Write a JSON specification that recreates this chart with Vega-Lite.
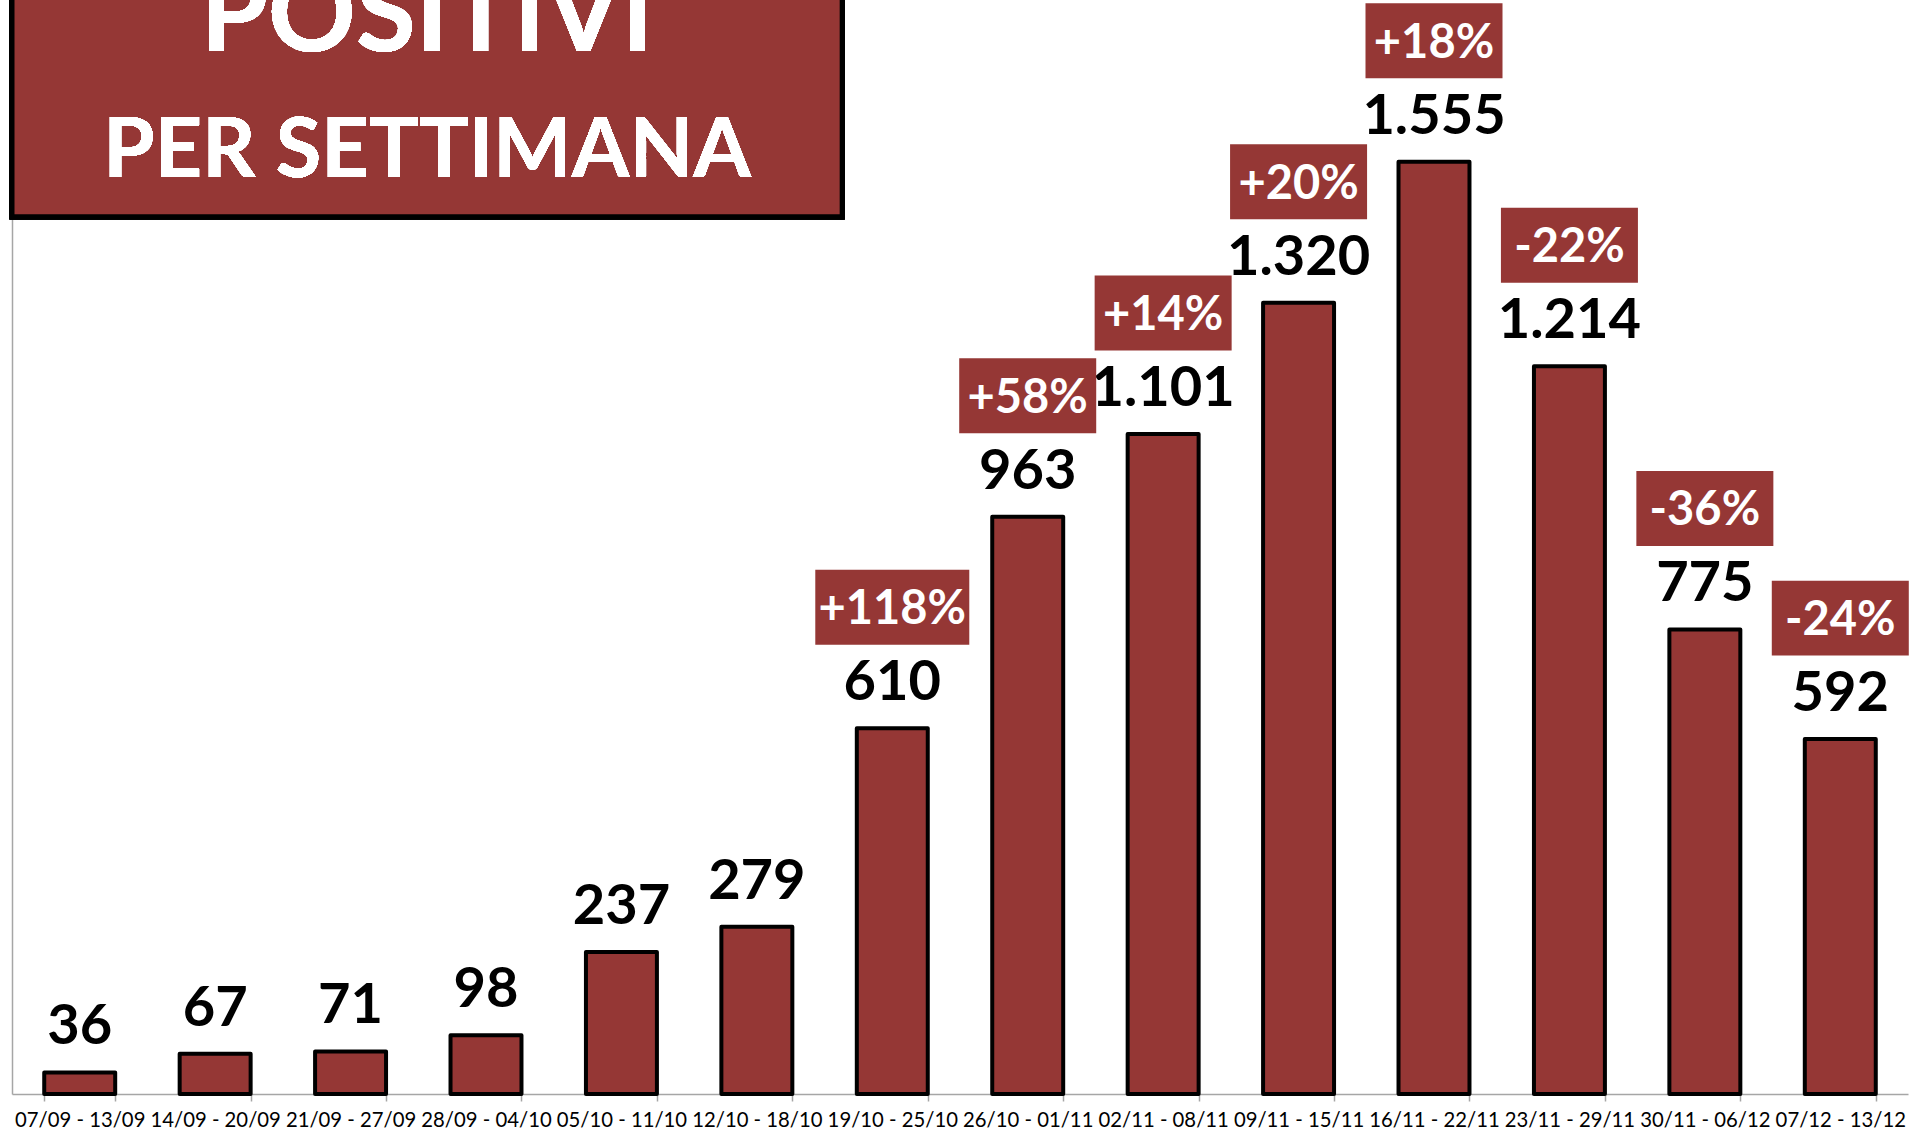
{
  "$schema": "https://vega.github.io/schema/vega-lite/v6.json",
  "width": 1896,
  "height": 1094,
  "padding": {"left": 12, "top": 0, "right": 5, "bottom": 45},
  "autosize": {"type": "none"},
  "background": "white",
  "config": {
    "view": {"stroke": null},
    "locale": {"number": {"decimal": ",", "thousands": ".", "grouping": [3], "currency": ["€", ""]}}
  },
  "data": {
    "values": [
      {"week": "07/09 - 13/09", "value": 36, "pct": null},
      {"week": "14/09 - 20/09", "value": 67, "pct": null},
      {"week": "21/09 - 27/09", "value": 71, "pct": null},
      {"week": "28/09 - 04/10", "value": 98, "pct": null},
      {"week": "05/10 - 11/10", "value": 237, "pct": null},
      {"week": "12/10 - 18/10", "value": 279, "pct": null},
      {"week": "19/10 - 25/10", "value": 610, "pct": "+118%"},
      {"week": "26/10 - 01/11", "value": 963, "pct": "+58%"},
      {"week": "02/11 - 08/11", "value": 1101, "pct": "+14%"},
      {"week": "09/11 - 15/11", "value": 1320, "pct": "+20%"},
      {"week": "16/11 - 22/11", "value": 1555, "pct": "+18%"},
      {"week": "23/11 - 29/11", "value": 1214, "pct": "-22%"},
      {"week": "30/11 - 06/12", "value": 775, "pct": "-36%"},
      {"week": "07/12 - 13/12", "value": 592, "pct": "-24%"}
    ]
  },
  "layer": [
    {
      "layer": [
        {
          "mark": {"type": "bar", "fill": "#953735", "stroke": "#000", "strokeWidth": 4, "strokeJoin": "round"},
          "encoding": {
            "x": {
              "field": "week", "type": "nominal", "sort": null,
              "scale": {"paddingInner": 0.476, "paddingOuter": 0.238},
              "axis": {
                "title": null, "labelFont": "Lato", "labelFontSize": 20.3, "labelColor": "#000",
                "labelAngle": 0, "labelOverlap": false, "labelBound": false, "labelLimit": 0,
                "labelPadding": 9, "tickBand": "extent", "tickSize": 7, "tickColor": "#a6a6a6",
                "tickWidth": 1.5, "domainColor": "#a6a6a6", "domainWidth": 1.5, "grid": false, "labelFlush": false
              }
            },
            "y": {
              "field": "value", "type": "quantitative",
              "scale": {"domain": [0, 1825], "nice": false},
              "axis": {"title": null, "labels": false, "ticks": false, "grid": false, "domainColor": "#a6a6a6", "domainWidth": 1.5, "minExtent": 0}
            }
          }
        },
        {
          "mark": {"type": "text", "font": "Lato", "fontWeight": "bold", "fontSize": 56, "baseline": "alphabetic", "dy": -28, "color": "#000"},
          "encoding": {
            "x": {"field": "week", "type": "nominal", "sort": null},
            "y": {"field": "value", "type": "quantitative"},
            "text": {"field": "value", "type": "quantitative", "format": ",d"}
          }
        },
        {
          "transform": [{"filter": "datum.pct != null"}],
          "mark": {"type": "point", "filled": true, "opacity": 1, "fill": "#953735", "strokeWidth": 0, "yOffset": -121},
          "encoding": {
            "x": {"field": "week", "type": "nominal", "sort": null},
            "y": {"field": "value", "type": "quantitative"},
            "shape": {"condition": {"test": "length(datum.pct) > 4", "value": "M-1,-0.487H1V0.487H-1Z"}, "value": "M-1,-0.5474H1V0.5474H-1Z"},
            "size": {"condition": {"test": "length(datum.pct) > 4", "value": 23716}, "value": 18769}
          }
        },
        {
          "transform": [{"filter": "datum.pct != null"}],
          "mark": {"type": "text", "font": "Lato", "fontWeight": "bold", "fontSize": 47, "baseline": "alphabetic", "dy": -104, "color": "#fff"},
          "encoding": {
            "x": {"field": "week", "type": "nominal", "sort": null},
            "y": {"field": "value", "type": "quantitative"},
            "text": {"field": "pct", "type": "nominal"}
          }
        }
      ]
    },
    {
      "layer": [
        {
          "mark": {"type": "rect", "fill": "#953735", "stroke": "#000", "strokeWidth": 5},
          "encoding": {
            "x": {"datum": 0, "type": "quantitative", "scale": {"domain": [0, 14], "nice": false, "zero": false}, "axis": null},
            "x2": {"datum": 6.13},
            "y": {"datum": 1463.6, "type": "quantitative"},
            "y2": {"datum": 1880}
          }
        },
        {
          "mark": {"type": "text", "font": "Lato", "fontWeight": "bold", "fontSize": 109, "baseline": "alphabetic", "align": "center", "color": "#fff"},
          "encoding": {
            "x": {"datum": 3.065, "type": "quantitative"},
            "y": {"datum": 1740, "type": "quantitative"},
            "text": {"value": "POSITIVI"}
          }
        },
        {
          "mark": {"type": "text", "font": "Lato", "fontWeight": "bold", "fontSize": 83, "baseline": "alphabetic", "align": "center", "color": "#fff"},
          "encoding": {
            "x": {"datum": 3.065, "type": "quantitative"},
            "y": {"datum": 1530, "type": "quantitative"},
            "text": {"value": "PER SETTIMANA"}
          }
        }
      ]
    }
  ],
  "resolve": {"scale": {"x": "independent"}}
}
